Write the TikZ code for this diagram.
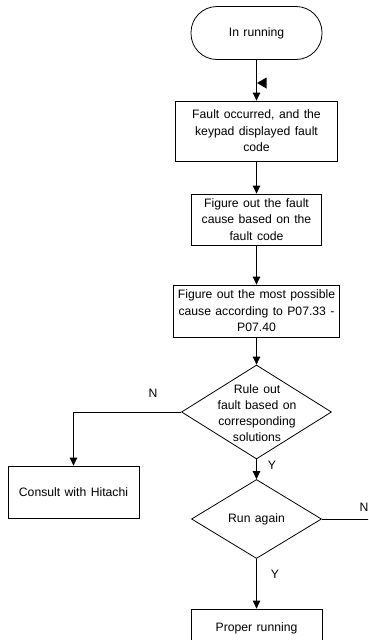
\documentclass[tikz,border=0pt]{standalone}
\usepackage{fontspec}
\setmainfont[WordSpace={1.3}]{Liberation Sans}
\usetikzlibrary{shapes.geometric,arrows.meta}
\begin{document}
\begin{tikzpicture}[x=1pt,y=-1pt,
  every node/.style={font=\fontsize{12.2}{16.5}\selectfont, text=black},
  box/.style={draw=black, line width=0.8pt, rectangle, inner sep=0pt, align=center},
  term/.style={draw=black, line width=0.8pt, rectangle, rounded corners=26pt, inner sep=0pt, align=center},
  dia/.style={draw=black, line width=0.8pt, diamond, inner sep=0pt},
  lbl/.style={inner sep=0pt},
  conn/.style={line width=0.8pt, -{Triangle[width=7.5pt,length=8pt]}},
  line/.style={line width=0.8pt}]
\useasboundingbox (0,0) rectangle (368,640);
\clip (0,0) rectangle (368,640);
\node[term, minimum width=131, minimum height=53] (start) at (256.5,33) {In running};
\node[box, minimum width=162, minimum height=60] (b1) at (256.5,131) {Fault occurred, and the\\keypad displayed fault\\code};
\node[box, minimum width=130, minimum height=51] (b2) at (256.5,219.5) {Figure out the fault\\cause based on the\\fault code};
\node[box, minimum width=166, minimum height=52] (b3) at (256.5,311) {Figure out the most possible\\cause according to P07.33 -\\P07.40};
\node[dia, minimum width=150, minimum height=94] (d1) at (256.5,412) {};
\node[lbl, align=center, font=\fontsize{12.2}{16}\selectfont] (d1t) at (257,413) {Rule out\\fault based on\\corresponding\\solutions};
\node[box, minimum width=131, minimum height=52] (consult) at (73.5,492) {Consult with Hitachi};
\node[dia, minimum width=130, minimum height=79] (d2) at (256.5,519) {};
\node[lbl] (d2t) at (256.5,519) {Run again};
\node[box, minimum width=131, minimum height=52] (proper) at (256.5,635) {};
\node[lbl] (propert) at (256.5,628) {Proper running};
\node[lbl] (n1) at (153,393) {N};
\node[lbl] (y1) at (272,465) {Y};
\node[lbl] (n2) at (364,507) {N};
\node[lbl] (y2) at (275,574) {Y};
\coordinate (corner) at (73.5,412);
\coordinate (nend) at (372,519);
\draw[conn] (start.south) -- (b1.north);
\draw[conn] (b1.south) -- (b2.north);
\draw[conn] (b2.south) -- (b3.north);
\draw[conn] (b3.south) -- (d1.north);
\draw[conn] (d1.west) -- (corner) -- (consult.north);
\draw[conn] (d1.south) -- (d2.north);
\draw[line] (d2.east) -- (nend);
\draw[conn] (d2.south) -- (proper.north);
\fill[black] (257,83) -- (266.5,77.5) -- (266.5,88.5) -- cycle;
\end{tikzpicture}
\end{document}
